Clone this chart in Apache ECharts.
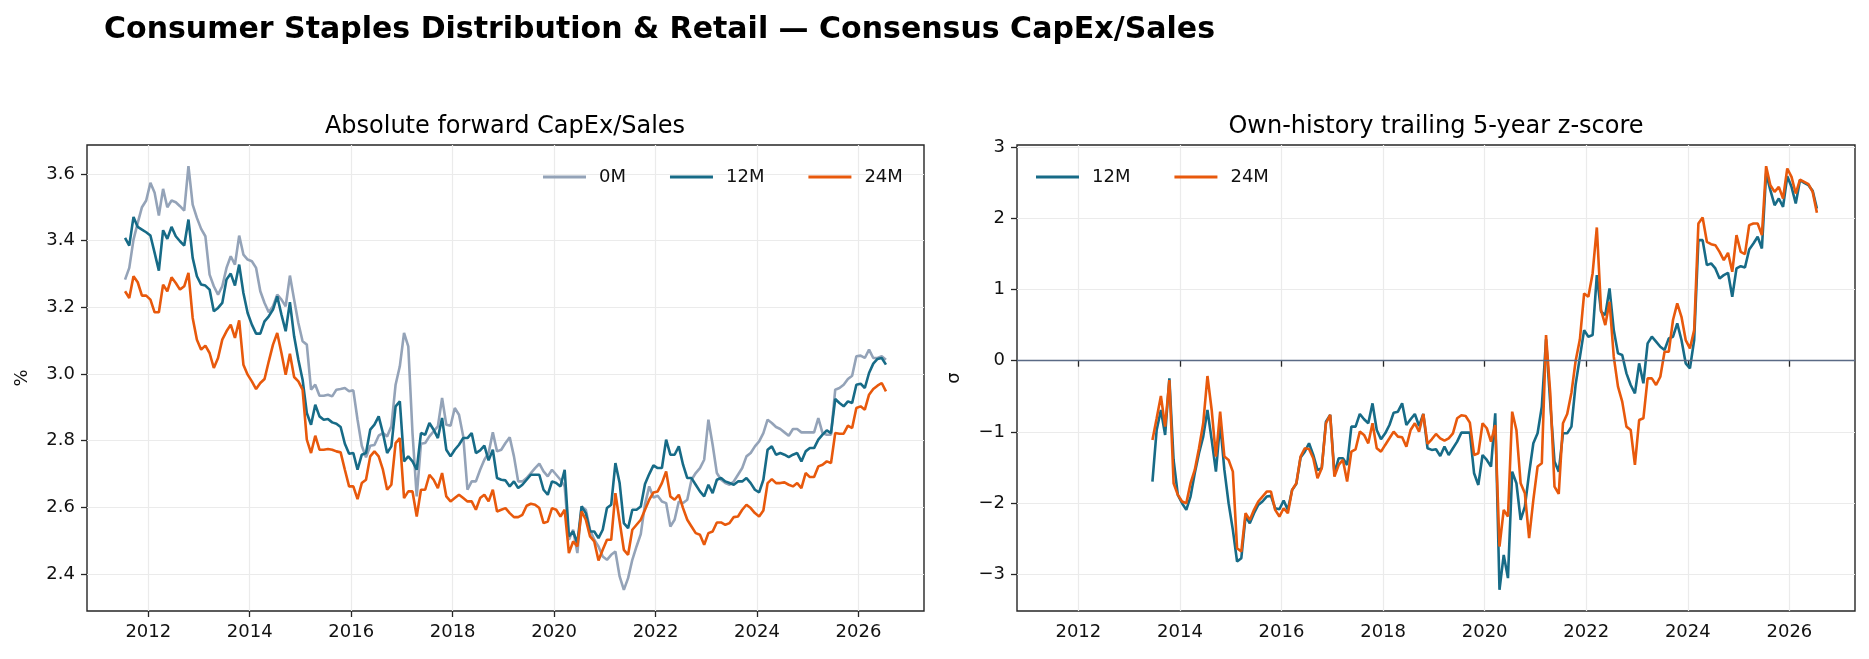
<!DOCTYPE html>
<html>
<head>
<meta charset="utf-8">
<script src="https://cdn.jsdelivr.net/npm/echarts@6/dist/echarts.min.js"></script>
<style>
  html, body { margin: 0; padding: 0; background: #fff; }
  #chart { width: 1869px; height: 659px; }
</style>
</head>
<body>
<div id="chart"></div>
<script>
// Monthly observations, first point = Jul 2011
const START_YEAR = 2011;
const START_MONTH = 7;
// z-score series start 23 months later (Jun 2013)
const Z_OFFSET = 23;

// Absolute forward CapEx/Sales (%)
const capex0M = [
  3.283,3.318,3.403,3.453,3.500,3.520,3.573,3.543,3.475,3.555,
  3.500,3.520,3.515,3.503,3.490,3.623,3.508,3.468,3.435,3.413,
  3.298,3.263,3.238,3.263,3.318,3.353,3.328,3.415,3.358,3.343,
  3.338,3.318,3.248,3.213,3.185,3.203,3.238,3.223,3.203,3.295,
  3.223,3.153,3.098,3.088,2.953,2.968,2.935,2.935,2.938,2.933,
  2.953,2.955,2.958,2.948,2.951,2.863,2.785,2.750,2.785,2.787,
  2.815,2.823,2.813,2.843,2.968,3.023,3.123,3.083,2.823,2.633,
  2.791,2.793,2.813,2.828,2.843,2.928,2.848,2.845,2.898,2.878,
  2.813,2.653,2.678,2.678,2.713,2.743,2.763,2.825,2.768,2.773,
  2.793,2.810,2.753,2.678,2.678,2.688,2.703,2.718,2.731,2.708,
  2.693,2.713,2.698,2.683,2.663,2.503,2.533,2.463,2.603,2.593,
  2.533,2.503,2.483,2.453,2.443,2.458,2.468,2.393,2.353,2.388,
  2.443,2.483,2.520,2.610,2.663,2.630,2.635,2.618,2.613,2.543,
  2.563,2.618,2.613,2.623,2.683,2.703,2.718,2.743,2.863,2.788,
  2.703,2.683,2.673,2.668,2.678,2.698,2.718,2.753,2.763,2.783,
  2.798,2.823,2.863,2.853,2.841,2.835,2.825,2.815,2.835,2.835,
  2.825,2.825,2.825,2.825,2.868,2.823,2.818,2.818,2.953,2.958,
  2.968,2.985,2.995,3.053,3.055,3.048,3.073,3.048,3.048,3.053,
  3.043
];
const capex12M = [
  3.408,3.385,3.471,3.441,3.433,3.425,3.415,3.363,3.310,3.431,
  3.405,3.441,3.413,3.398,3.385,3.463,3.348,3.293,3.268,3.265,
  3.253,3.188,3.198,3.213,3.283,3.301,3.265,3.328,3.243,3.183,
  3.148,3.121,3.121,3.158,3.173,3.193,3.233,3.178,3.128,3.215,
  3.113,3.043,2.983,2.883,2.848,2.908,2.873,2.863,2.865,2.855,
  2.851,2.841,2.791,2.761,2.763,2.713,2.758,2.763,2.833,2.848,
  2.873,2.823,2.763,2.783,2.903,2.918,2.738,2.753,2.738,2.713,
  2.823,2.818,2.853,2.833,2.808,2.868,2.773,2.753,2.773,2.788,
  2.808,2.808,2.823,2.763,2.771,2.785,2.741,2.773,2.688,2.683,
  2.681,2.663,2.678,2.658,2.668,2.683,2.698,2.698,2.698,2.653,
  2.638,2.678,2.673,2.663,2.713,2.513,2.528,2.493,2.603,2.583,
  2.528,2.528,2.508,2.533,2.598,2.608,2.733,2.673,2.553,2.538,
  2.593,2.593,2.603,2.670,2.700,2.726,2.718,2.718,2.803,2.758,
  2.758,2.783,2.728,2.688,2.688,2.668,2.648,2.633,2.668,2.643,
  2.683,2.688,2.678,2.673,2.668,2.678,2.678,2.688,2.673,2.653,
  2.645,2.683,2.773,2.783,2.758,2.763,2.758,2.751,2.758,2.763,
  2.738,2.768,2.778,2.778,2.803,2.818,2.831,2.823,2.925,2.913,
  2.903,2.918,2.913,2.968,2.971,2.958,3.003,3.031,3.045,3.048,
  3.028
];
const capex24M = [
  3.248,3.228,3.293,3.275,3.235,3.235,3.223,3.185,3.185,3.268,
  3.248,3.290,3.273,3.253,3.263,3.303,3.168,3.103,3.073,3.085,
  3.063,3.018,3.048,3.103,3.128,3.148,3.108,3.161,3.028,2.998,
  2.978,2.955,2.973,2.985,3.038,3.088,3.123,3.063,2.998,3.061,
  2.991,2.978,2.953,2.803,2.763,2.815,2.773,2.773,2.775,2.773,
  2.768,2.765,2.713,2.663,2.663,2.625,2.673,2.683,2.753,2.768,
  2.753,2.713,2.653,2.668,2.793,2.808,2.628,2.648,2.648,2.573,
  2.653,2.653,2.698,2.683,2.658,2.703,2.633,2.618,2.628,2.638,
  2.628,2.618,2.618,2.593,2.628,2.638,2.618,2.653,2.588,2.593,
  2.598,2.583,2.571,2.571,2.578,2.605,2.611,2.608,2.598,2.553,
  2.558,2.598,2.593,2.573,2.593,2.463,2.498,2.483,2.588,2.563,
  2.513,2.498,2.441,2.473,2.503,2.503,2.643,2.558,2.473,2.458,
  2.533,2.548,2.563,2.593,2.623,2.645,2.648,2.673,2.708,2.633,
  2.623,2.638,2.598,2.563,2.543,2.523,2.518,2.488,2.523,2.528,
  2.555,2.555,2.548,2.553,2.571,2.573,2.593,2.608,2.598,2.583,
  2.573,2.591,2.673,2.685,2.673,2.673,2.675,2.668,2.663,2.673,
  2.658,2.703,2.691,2.691,2.723,2.728,2.738,2.733,2.823,2.821,
  2.821,2.845,2.838,2.898,2.903,2.893,2.938,2.955,2.965,2.973,
  2.948
];

// Own-history trailing 5-year z-score (sigma), from Jun 2013
const z12M = [
  -1.698,-0.973,-0.692,-1.043,-0.248,-1.394,-1.885,-2.002,-2.095,-1.908,
  -1.581,-1.300,-1.066,-0.692,-1.113,-1.558,-0.879,-1.534,-2.002,-2.376,
  -2.820,-2.774,-2.189,-2.283,-2.142,-2.025,-1.978,-1.908,-1.899,-2.072,
  -2.086,-1.964,-2.095,-1.815,-1.730,-1.360,-1.277,-1.160,-1.324,-1.534,
  -1.511,-0.856,-0.762,-1.581,-1.370,-1.370,-1.464,-0.926,-0.926,-0.748,
  -0.823,-0.879,-0.599,-0.973,-1.104,-1.020,-0.903,-0.730,-0.716,-0.599,
  -0.903,-0.823,-0.748,-0.917,-0.748,-1.230,-1.253,-1.244,-1.338,-1.207,
  -1.324,-1.230,-1.137,-1.010,-1.010,-1.010,-1.581,-1.745,-1.324,-1.394,
  -1.487,-0.739,-3.218,-2.727,-3.054,-1.558,-1.721,-2.236,-2.049,-1.581,
  -1.160,-1.020,-0.645,0.300,-0.599,-1.417,-1.558,-1.020,-1.020,-0.926,
  -0.330,0.050,0.430,0.337,0.360,1.202,0.688,0.641,1.015,0.430,
  0.103,0.080,-0.178,-0.341,-0.458,-0.037,-0.318,0.243,0.337,0.267,
  0.196,0.150,0.313,0.337,0.524,0.290,-0.037,-0.108,0.290,1.693,
  1.693,1.342,1.366,1.296,1.155,1.202,1.235,0.898,1.296,1.328,
  1.310,1.562,1.646,1.740,1.576,2.629,2.395,2.184,2.278,2.161,
  2.591,2.442,2.208,2.535,2.498,2.465,2.385,2.138
];
const z24M = [
  -1.113,-0.809,-0.496,-0.926,-0.271,-1.721,-1.885,-1.978,-2.002,-1.721,
  -1.534,-1.230,-0.879,-0.215,-0.692,-1.347,-0.716,-1.347,-1.394,-1.558,
  -2.633,-2.680,-2.142,-2.236,-2.095,-1.978,-1.908,-1.838,-1.838,-2.095,
  -2.189,-2.072,-2.142,-1.815,-1.721,-1.347,-1.230,-1.240,-1.370,-1.651,
  -1.511,-0.879,-0.762,-1.628,-1.464,-1.394,-1.698,-1.277,-1.244,-0.996,
  -1.043,-1.160,-0.879,-1.230,-1.277,-1.183,-1.090,-0.996,-1.066,-1.076,
  -1.207,-0.973,-0.879,-0.996,-0.748,-1.169,-1.104,-1.029,-1.090,-1.123,
  -1.090,-1.020,-0.809,-0.767,-0.776,-0.870,-1.324,-1.300,-0.879,-0.949,
  -1.137,-0.903,-2.610,-2.095,-2.189,-0.716,-0.973,-1.721,-1.862,-2.493,
  -1.955,-1.487,-1.441,0.360,-0.458,-1.768,-1.871,-0.879,-0.748,-0.450,
  0.000,0.300,0.945,0.898,1.225,1.871,0.711,0.500,0.828,0.056,
  -0.365,-0.575,-0.926,-0.973,-1.464,-0.833,-0.809,-0.248,-0.248,-0.341,
  -0.225,0.126,0.126,0.571,0.805,0.617,0.290,0.173,0.430,1.927,
  2.011,1.670,1.637,1.623,1.529,1.413,1.515,1.249,1.763,1.529,
  1.497,1.904,1.927,1.927,1.763,2.732,2.465,2.371,2.442,2.278,
  2.699,2.582,2.348,2.544,2.512,2.479,2.371,2.077
];

const xTicks = [2012, 2014, 2016, 2018, 2020, 2022, 2024, 2026];
const yTicksAbs = [2.4, 2.6, 2.8, 3.0, 3.2, 3.4, 3.6];
const yTicksZ = [-3, -2, -1, 0, 1, 2, 3];

const FONT = '"DejaVu Sans", "Noto Sans", sans-serif';
const TXT = '#111111';
const SPINE = '#262626';
const GRIDC = '#ebebeb';
const C0 = '#94a3b8';
const C12 = '#176b87';
const C24 = '#e8590c';
const ZERO = '#5a6a85';
const LW = 2.6;

// month index -> decimal year (mid-month)
function monthX(i) {
    return START_YEAR + (START_MONTH - 1 + i + 0.5) / 12;
}
function pairs(arr, offset) {
    return arr.map((v, i) => [monthX(i + offset), v]);
}
// matplotlib-style 5% autoscale margin
function padded(lo, hi) {
    const p = (hi - lo) * 0.05;
    return [lo - p, hi + p];
}
const absAll = capex0M.concat(capex12M, capex24M);
const zAll = z12M.concat(z24M);
const [xMin, xMax] = padded(monthX(0), monthX(capex0M.length - 1));
const [yAbsMin, yAbsMax] = padded(Math.min(...absAll), Math.max(...absAll));
const [yZMin, yZMax] = padded(Math.min(...zAll), Math.max(...zAll));

const minus = v => (v < 0 ? '\u2212' + Math.abs(v) : String(v));

function xAxisFor(gi) {
    return {
        type: 'value', gridIndex: gi, min: xMin, max: xMax,
        axisLine: { show: false },
        axisTick: { show: true, customValues: xTicks, length: 6, lineStyle: { color: SPINE, width: 1.3 } },
        axisLabel: { customValues: xTicks, margin: 12, fontSize: 18, color: TXT, fontFamily: FONT,
            formatter: v => String(Math.round(v)) },
        splitLine: { show: true, lineStyle: { color: GRIDC, width: 1.2 } }
    };
}
function yAxisFor(gi, lo, hi, ticks, fmt, name, gap) {
    return {
        type: 'value', gridIndex: gi, min: lo, max: hi,
        name: name, nameLocation: 'middle', nameGap: gap, nameRotate: 90,
        nameTextStyle: { fontSize: 18, color: TXT, fontFamily: FONT },
        axisLine: { show: false },
        axisTick: { show: true, customValues: ticks, length: 6, lineStyle: { color: SPINE, width: 1.3 } },
        axisLabel: { customValues: ticks, margin: 12, fontSize: 18, color: TXT, fontFamily: FONT, formatter: fmt },
        splitLine: { show: true, lineStyle: { color: GRIDC, width: 1.2 } }
    };
}
function lineSeries(name, arr, offset, color, gi) {
    return {
        name: name, type: 'line', xAxisIndex: gi, yAxisIndex: gi,
        data: pairs(arr, offset),
        symbol: 'none', showSymbol: false,
        lineStyle: { color: color, width: LW },
        itemStyle: { color: color },
        z: 3
    };
}
function textEl(x, y, text, font, align) {
    return {
        type: 'text', x: x, y: y, silent: true,
        style: { text: text, font: font, fill: '#000', align: align, verticalAlign: 'middle',
                 textAlign: align, textVerticalAlign: 'middle' }
    };
}

const chart = echarts.init(document.getElementById('chart'));
const legendBase = {
    icon: 'rect', itemWidth: 43, itemHeight: 3, itemGap: 44, top: 163,
    textStyle: { fontSize: 18, color: TXT, fontFamily: FONT, padding: [0, 0, 0, 8] },
    selectedMode: false
};

chart.setOption({
    animation: false,
    backgroundColor: '#ffffff',
    graphic: [
        textEl(104, 30, 'Consumer Staples Distribution & Retail \u2014 Consensus CapEx/Sales',
            'bold 30px ' + FONT, 'left'),
        textEl(505, 127, 'Absolute forward CapEx/Sales', '24px ' + FONT, 'center'),
        textEl(1436, 127, 'Own-history trailing 5-year z-score', '24px ' + FONT, 'center')
    ],
    grid: [
        { left: 87, top: 145, width: 837, height: 466, show: true, borderColor: SPINE, borderWidth: 1.4,
          backgroundColor: 'transparent' },
        { left: 1017, top: 145, width: 838, height: 466, show: true, borderColor: SPINE, borderWidth: 1.4,
          backgroundColor: 'transparent' }
    ],
    legend: [
        Object.assign({ data: ['0M', '12M', '24M'], left: 538 }, legendBase),
        Object.assign({ data: ['12M', '24M'], left: 1031 }, legendBase)
    ],
    xAxis: [xAxisFor(0), xAxisFor(1)],
    yAxis: [
        yAxisFor(0, yAbsMin, yAbsMax, yTicksAbs, v => v.toFixed(1), '%', 56),
        yAxisFor(1, yZMin, yZMax, yTicksZ, minus, '\u03c3', 54)
    ],
    series: [
        lineSeries('0M', capex0M, 0, C0, 0),
        lineSeries('12M', capex12M, 0, C12, 0),
        lineSeries('24M', capex24M, 0, C24, 0),
        {
            name: 'zero', type: 'line', xAxisIndex: 1, yAxisIndex: 1, data: [], z: 2,
            markLine: {
                silent: true, symbol: ['none', 'none'], label: { show: false },
                lineStyle: { color: ZERO, width: 1.4, type: 'solid' },
                data: [{ yAxis: 0 }]
            }
        },
        lineSeries('12M', z12M, Z_OFFSET, C12, 1),
        lineSeries('24M', z24M, Z_OFFSET, C24, 1)
    ]
});
</script>
</body>
</html>
